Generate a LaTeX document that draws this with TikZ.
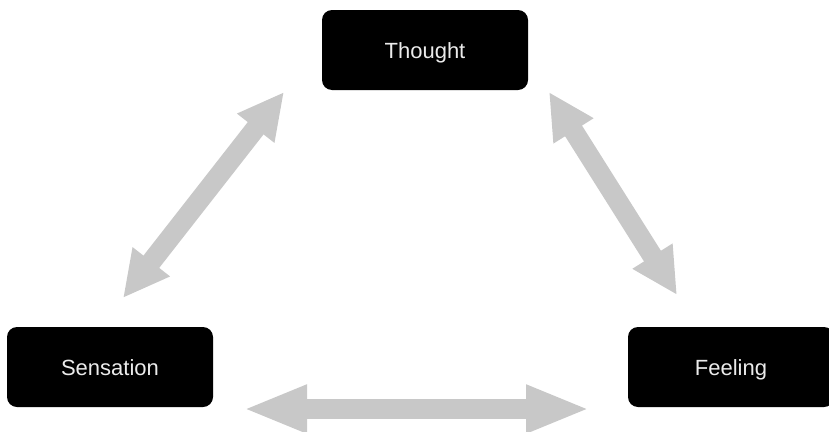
\documentclass[tikz,border=0pt]{standalone}
\usepackage{fontspec}
\setmainfont{Liberation Sans}
\usetikzlibrary{arrows.meta}
\definecolor{arrowgray}{RGB}{200,200,200}
\definecolor{labelgray}{RGB}{235,235,235}
\tikzset{
  mindbox/.style={fill=black, rounded corners=10pt, minimum width=206pt,
    minimum height=80pt, inner sep=0pt, text=labelgray,
    text height=16pt, text depth=0pt,
    font=\fontsize{22}{26}\selectfont},
  linkarrow/.style={draw=arrowgray, line width=20pt,
    {Triangle[length=46pt,width=44pt]}-{Triangle[length=46pt,width=44pt]}},
  longarrow/.style={draw=arrowgray, line width=20pt,
    {Triangle[length=64pt,width=44pt]}-{Triangle[length=64pt,width=44pt]}}
}
\begin{document}
\begin{tikzpicture}[x=1pt,y=-1pt]
  \useasboundingbox (0,0) rectangle (829,431);
  \clip (0,0) rectangle (829,431);

  % the three faculties
  \node[mindbox] (thought)   at (425,50)  {Thought};
  \node[mindbox] (sensation) at (110,367) {Sensation};
  \node[mindbox] (feeling)   at (731,367) {Feeling};

  % ends of the two-way links
  \coordinate (ts) at (284,92);
  \coordinate (st) at (123,298);
  \coordinate (tf) at (549,92);
  \coordinate (ft) at (677,295);
  \coordinate (sf) at (243,409);
  \coordinate (fs) at (590,409);

  \draw[linkarrow] (ts) -- (st);
  \draw[linkarrow] (tf) -- (ft);
  \draw[longarrow] (sf) -- (fs);
\end{tikzpicture}
\end{document}
